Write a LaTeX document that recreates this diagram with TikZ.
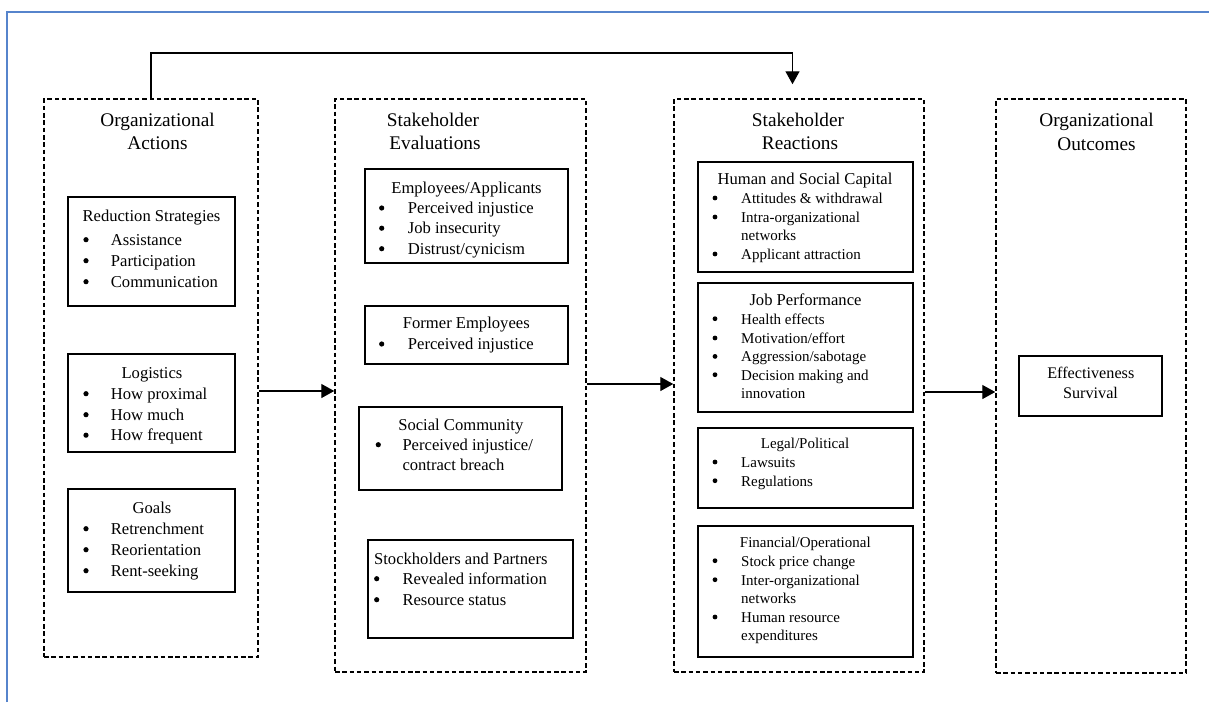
\documentclass[tikz,border=0pt]{standalone}
\usepackage{fontspec}
\setmainfont{Liberation Serif}
\usetikzlibrary{arrows.meta}
\definecolor{frameblue}{RGB}{86,132,204}

\tikzset{
  outerbox/.style={draw, dash pattern=on 4.5pt off 2.8pt, line width=1.5pt, inner sep=0},
  innerbox/.style={draw, line width=1.3pt, inner sep=0},
  head/.style={anchor=base, inner sep=0, font=\fontsize{19.3}{23}\selectfont},
  ttl/.style={anchor=base, inner sep=0, font=\fontsize{16.6}{20}\selectfont},
  itm/.style={anchor=base west, inner sep=0, font=\fontsize{16.6}{20}\selectfont},
  bul/.style={circle, fill, inner sep=0, minimum size=5.2pt},
  conn/.style={line width=1.4pt, -{Triangle[length=13pt,width=14pt]}},
}

% box from its corners: name, x1, y1, x2, y2
\newcommand\ibox[5]{%
  \node[innerbox, minimum width={(#4-#2)*1pt}, minimum height={(#5-#3)*1pt}]
    (#1) at ({(#2+#4)/2},{(#3+#5)/2}) {};}
% bulleted entry: name, bullet x, text x, baseline y, text
\newcommand\bitem[5]{%
  \node[bul] (#1b) at (#2,{#4-5.3}) {};
  \node[itm] (#1) at (#3,#4) {#5};}
% continuation line of an entry: name, text x, baseline y, text
\newcommand\citem[4]{%
  \node[itm] (#1) at (#2,#3) {#4};}

\begin{document}
\begin{tikzpicture}[x=1pt,y=-1pt]
\useasboundingbox (0,0) rectangle (1209,702);

% page frame
\draw[frameblue, line width=1.6pt] (7,702) -- (7,12) -- (1209,12);

% the four stages
\node[outerbox, minimum width=214pt, minimum height=558pt] (oa) at (151,378) {};
\node[outerbox, minimum width=251pt, minimum height=573pt] (se) at (460.5,385.5) {};
\node[outerbox, minimum width=250pt, minimum height=573pt] (sr) at (799,385.5) {};
\node[outerbox, minimum width=190pt, minimum height=574pt] (oo) at (1091,386) {};

\node[head] (oa-t1) at (157.5,126) {Organizational};
\node[head] (oa-t2) at (157.5,149.5) {Actions};
\node[head] (se-t1) at (433,126) {Stakeholder};
\node[head] (se-t2) at (435,149.5) {Evaluations};
\node[head] (sr-t1) at (798,126) {Stakeholder};
\node[head] (sr-t2) at (800,149.5) {Reactions};
\node[head] (oo-t1) at (1096.5,126.5) {Organizational};
\node[head] (oo-t2) at (1096.5,150.5) {Outcomes};

% Organizational Actions
\ibox{rs}{68}{197}{235}{306}
\node[ttl] (rs-t) at (151.5,221) {Reduction Strategies};
\bitem{rs1}{86}{110.7}{245}{Assistance}
\bitem{rs2}{86}{110.7}{266}{Participation}
\bitem{rs3}{86}{110.7}{287}{Communication}

\ibox{lg}{68}{354}{235}{452}
\node[ttl] (lg-t) at (152,378) {Logistics};
\bitem{lg1}{86}{110.7}{399}{How proximal}
\bitem{lg2}{86}{110.7}{420}{How much}
\bitem{lg3}{86}{110.7}{440.5}{How frequent}

\ibox{gl}{68}{489}{235}{592}
\node[ttl] (gl-t) at (152,513) {Goals};
\bitem{gl1}{86}{110.7}{534}{Retrenchment}
\bitem{gl2}{86}{110.7}{555}{Reorientation}
\bitem{gl3}{86}{110.7}{576}{Rent-seeking}

% Stakeholder Evaluations
\ibox{ea}{365}{169}{568}{263}
\node[ttl] (ea-t) at (466.5,193) {Employees/Applicants};
\bitem{ea1}{381.7}{407.7}{213.3}{Perceived injustice}
\bitem{ea2}{381.7}{407.7}{233.5}{Job insecurity}
\bitem{ea3}{381.7}{407.7}{254}{Distrust/cynicism}

\ibox{fe}{365}{306}{568}{364}
\node[ttl] (fe-t) at (466.3,328.3) {Former Employees};
\bitem{fe1}{381.7}{407.7}{349.3}{Perceived injustice}

\ibox{sc}{359}{407}{562}{490}
\node[ttl] (sc-t) at (460.8,430) {Social Community};
\bitem{sc1}{378.3}{402.3}{450}{Perceived injustice/}
\citem{sc1c}{402.3}{470}{contract breach}

\ibox{sp}{368}{540}{573}{638}
\node[ttl] (sp-t) at (460.8,564) {Stockholders and Partners};
\bitem{sp1}{376.7}{402.3}{584}{Revealed information}
\bitem{sp2}{376.7}{402.3}{605}{Resource status}

% Stakeholder Reactions
\begin{scope}[itm/.append style={font=\fontsize{15}{18}\selectfont},
              bul/.append style={minimum size=4.8pt}]
\ibox{hs}{698}{162}{913}{272}
\node[ttl] (hs-t) at (805,184.3) {Human and Social Capital};
\bitem{hs1}{715}{741}{203.3}{Attitudes \& withdrawal}
\bitem{hs2}{715}{741}{222.3}{Intra-organizational}
\citem{hs2c}{741}{240.7}{networks}
\bitem{hs3}{715}{741}{259.3}{Applicant attraction}

\ibox{jp}{698}{283}{913}{412}
\node[ttl] (jp-t) at (805.5,305.7) {Job Performance};
\bitem{jp1}{715}{741}{324}{Health effects}
\bitem{jp2}{715}{741}{343.3}{Motivation/effort}
\bitem{jp3}{715}{741}{361.7}{Aggression/sabotage}
\bitem{jp4}{715}{741}{380}{Decision making and}
\citem{jp4c}{741}{398.3}{innovation}

\ibox{lp}{698}{428}{913}{508}
\node[ttl, font=\fontsize{15}{18}\selectfont] (lp-t) at (805,448.3) {Legal/Political};
\bitem{lp1}{715}{741}{467.3}{Lawsuits}
\bitem{lp2}{715}{741}{486}{Regulations}

\ibox{fo}{698}{526}{913}{657}
\node[ttl, font=\fontsize{15}{18}\selectfont] (fo-t) at (805.3,547.3) {Financial/Operational};
\bitem{fo1}{715}{741}{566}{Stock price change}
\bitem{fo2}{715}{741}{585}{Inter-organizational}
\citem{fo2c}{741}{603.3}{networks}
\bitem{fo3}{715}{741}{622.3}{Human resource}
\citem{fo3c}{741}{640.7}{expenditures}
\end{scope}

% Organizational Outcomes
\ibox{es}{1019}{356}{1162}{416}
\node[ttl, font=\fontsize{16.2}{20}\selectfont] (es-t1) at (1090.8,378.3) {Effectiveness};
\node[ttl, font=\fontsize{16.2}{20}\selectfont] (es-t2) at (1090.5,398.3) {Survival};

% flow between the stages
\draw[conn] (oa.east |- 0,391) -- (se.west |- 0,391);
\draw[conn] (se.east |- 0,384) -- (sr.west |- 0,384);
\draw[conn] (sr.east |- 0,392) -- (oo.west |- 0,392);
\draw[conn, shorten >=14pt] (oa.north) -- (oa.north |- 0,53) -| ([xshift=-6.5pt]sr.north);
\end{tikzpicture}
\end{document}
